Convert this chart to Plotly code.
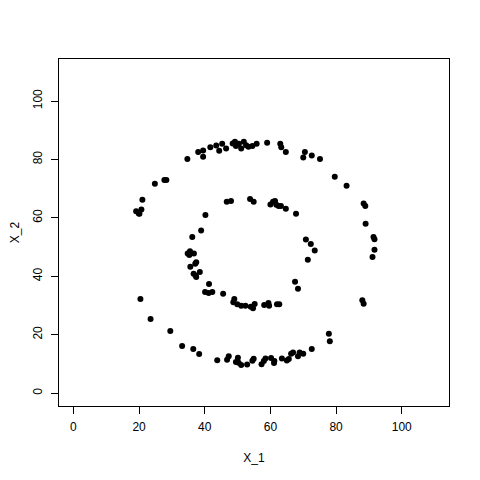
import plotly.graph_objects as go

# Outer ring points
outer_x = [34.7, 38.0, 39.5, 39.5, 41.7, 43.5, 44.4, 45.3, 46.5, 48.5, 49.2, 49.5, 50.4, 51.1,
           51.9, 52.6, 53.3, 54.5, 55.8, 59.0, 63.0, 63.3, 64.7, 70.5, 70.0, 72.6, 75.1, 79.6,
           83.2, 88.4, 88.9, 89.0, 91.4, 91.7, 91.7, 91.1, 88.0, 88.4, 77.8, 78.1, 72.6, 70.0,
           68.9, 68.4, 66.9, 66.3, 65.0, 65.6, 63.5, 61.1, 61.2, 60.2, 58.5, 58.0, 57.3, 54.9,
           54.5, 52.9, 51.1, 50.3, 50.1, 49.5, 46.8, 47.3, 43.8, 38.3, 36.5, 33.1, 29.5, 23.5,
           20.4, 19.1, 19.9, 20.7, 20.1, 21.0, 24.8, 27.7, 28.3]
outer_y = [80.2, 82.6, 83.1, 80.9, 84.2, 84.8, 83.0, 85.4, 83.8, 85.5, 86.1, 84.6, 85.4, 83.8,
           86.1, 84.9, 84.4, 84.6, 85.4, 85.7, 85.4, 84.2, 82.6, 82.6, 80.7, 81.4, 80.2, 74.1,
           71.0, 64.9, 64.1, 58.0, 53.5, 52.7, 49.1, 46.6, 31.8, 30.6, 20.3, 17.8, 15.1, 13.5,
           13.9, 12.6, 13.9, 13.5, 11.2, 11.7, 11.9, 10.3, 11.0, 12.0, 11.9, 11.0, 9.9, 11.8,
           11.1, 9.8, 9.6, 10.4, 12.1, 10.7, 11.4, 12.6, 11.3, 13.4, 15.1, 16.1, 21.3, 25.4,
           32.2, 62.3, 61.5, 62.9, 61.4, 66.2, 71.7, 73.0, 73.0]

# Inner ring points
inner_x = [46.7, 48.0, 53.8, 54.9, 60.0, 60.8, 61.4, 61.8, 62.5, 63.2, 64.7, 67.8, 40.2, 38.9,
           36.2, 70.8, 72.3, 73.5, 71.4, 35.5, 34.8, 35.3, 36.7, 37.4, 37.1, 35.6, 36.6, 37.2,
           37.4, 38.5, 41.3, 40.1, 41.2, 42.3, 45.6, 49.0, 48.7, 49.9, 51.1, 52.4, 54.0, 54.7,
           55.2, 58.1, 59.4, 59.6, 62.0, 62.7, 67.5, 68.4]
inner_y = [65.5, 65.8, 66.5, 65.5, 64.6, 65.5, 65.8, 64.5, 64.1, 64.1, 63.1, 61.4, 61.0, 55.7,
           53.5, 52.6, 51.1, 48.8, 45.7, 48.6, 47.8, 47.3, 47.8, 44.8, 44.3, 43.3, 40.9, 40.3,
           39.8, 41.5, 37.4, 34.6, 34.3, 34.6, 34.0, 32.2, 31.1, 30.4, 29.9, 29.9, 29.6, 29.1,
           30.5, 30.2, 30.9, 29.9, 30.4, 30.4, 38.1, 35.7]

x_all = outer_x + inner_x
y_all = outer_y + inner_y

tick_vals = [0, 20, 40, 60, 80, 100]
tick_text = ["0", "20", "40", "60", "80", "100"]

fig = go.Figure()
fig.add_trace(go.Scatter(
    x=x_all, y=y_all, mode="markers",
    marker=dict(color="black", size=6, line=dict(width=0)),
    showlegend=False, hoverinfo="skip",
))

axis_common = dict(
    range=[-4.4, 114.4],
    tickvals=tick_vals, ticktext=tick_text,
    showline=True, linecolor="black", linewidth=1, mirror=True,
    ticks="outside", ticklen=7, tickwidth=1, tickcolor="black",
    showgrid=False, zeroline=False, automargin=False,
    tickfont=dict(family="Liberation Sans, Arial, sans-serif", size=12, color="black"),
)

# page body has an 8px margin, so the figure is offset by 8px
fig.update_layout(
    width=472, height=472,
    margin=dict(l=51, r=31, t=51, b=74),
    paper_bgcolor="white", plot_bgcolor="white",
    font=dict(family="Liberation Sans, Arial, sans-serif", size=12, color="black"),
    xaxis=dict(**axis_common, ticklabelstandoff=3,
               title=dict(text="X_1", font=dict(size=12, color="black"), standoff=20)),
    yaxis=dict(**axis_common, tickangle=-90, ticklabelstandoff=4,
               title=dict(text="X_2", font=dict(size=12, color="black"))),
)

fig.write_html("out.html")
